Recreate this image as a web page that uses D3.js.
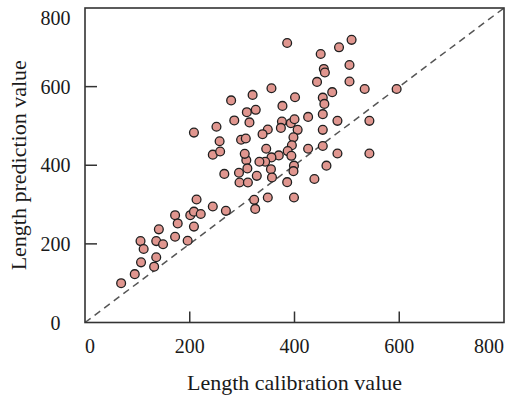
<!DOCTYPE html>
<html>
<head>
<meta charset="utf-8">
<script src="https://cdn.jsdelivr.net/npm/d3@7/dist/d3.min.js"></script>
<style>
  html, body { margin: 0; padding: 0; background: #fff; }
  svg { display: block; }
  text { font-family: "Liberation Serif", "DejaVu Serif", serif; fill: #1a1a1a; }
</style>
</head>
<body>
<svg id="chart" width="509" height="397"></svg>
<script>
// Data (calibration value, prediction value)
const calibration = [69, 95, 107, 132, 136, 106, 112, 136, 149, 141, 172, 196, 172, 177, 201, 208, 221, 213, 208, 244,
  269, 266, 294, 295, 311, 308, 310, 279, 320, 309, 285, 314, 251, 208, 257, 244, 258, 298, 307, 305,
  356, 401, 443, 326, 377, 426, 376, 393, 400, 374, 406, 349, 339, 398, 395, 426, 346, 387, 370, 356,
  394, 344, 333, 355, 399, 398, 328, 357, 386, 438, 386, 509, 485, 450, 505, 456, 458, 505, 534, 595,
  472, 454, 457, 454, 482, 543, 454, 454, 482, 543, 461, 399, 349, 323, 325];
const prediction = [100, 123, 153, 142, 166, 207, 187, 207, 199, 237, 218, 208, 273, 252, 273, 282, 276, 313, 244, 295,
  284, 378, 381, 356, 356, 413, 392, 565, 579, 535, 514, 509, 498, 483, 461, 427, 435, 465, 468, 429,
  596, 573, 612, 541, 551, 523, 511, 507, 517, 495, 490, 491, 479, 471, 451, 442, 442, 436, 425, 420,
  424, 409, 409, 390, 399, 385, 373, 369, 357, 365, 711, 719, 700, 683, 655, 645, 636, 613, 594, 594,
  586, 572, 556, 530, 513, 513, 490, 449, 430, 430, 399, 318, 318, 312, 289];
const xTicks = [0, 200, 400, 600, 800];
const yTicks = [0, 200, 400, 600, 800];
const xTitle = "Length calibration value";
const yTitle = "Length prediction value";

const svg = d3.select("#chart");
const pL = 85, pR = 504, pT = 8, pB = 322.5;
const x = d3.scaleLinear().domain([0, 800]).range([pL, pR]);
const y = d3.scaleLinear().domain([0, 800]).range([pB, pT]);

const axisColor = "#333";

// identity line
svg.append("line")
  .attr("x1", x(0)).attr("y1", y(0))
  .attr("x2", x(800)).attr("y2", y(800))
  .attr("stroke", "#555").attr("stroke-width", 1.5)
  .attr("stroke-dasharray", "7,5");

// points
const pts = calibration.map((c, i) => ({ c, p: prediction[i] }));
svg.append("g").selectAll("circle").data(pts).join("circle")
  .attr("cx", d => x(d.c)).attr("cy", d => y(d.p))
  .attr("r", 4.4)
  .attr("fill", "#e0968f")
  .attr("stroke", "#1f1f1f").attr("stroke-width", 1.3);

// frame
svg.append("rect")
  .attr("x", pL).attr("y", pT)
  .attr("width", pR - pL).attr("height", pB - pT)
  .attr("fill", "none").attr("stroke", axisColor).attr("stroke-width", 1.6);

// inward ticks
const innerX = xTicks.filter(v => v > 0 && v < 800);
const innerY = yTicks.filter(v => v > 0 && v < 800);
svg.append("g").selectAll("line").data(innerX).join("line")
  .attr("x1", d => x(d)).attr("x2", d => x(d))
  .attr("y1", pB).attr("y2", pB - 11)
  .attr("stroke", axisColor).attr("stroke-width", 1.5);
svg.append("g").selectAll("line").data(innerY).join("line")
  .attr("y1", d => y(d)).attr("y2", d => y(d))
  .attr("x1", pL).attr("x2", pL + 12)
  .attr("stroke", axisColor).attr("stroke-width", 1.5);

// tick labels
svg.append("g").selectAll("text").data(xTicks).join("text")
  .attr("x", d => d === 0 ? pL : d === 800 ? pR : x(d))
  .attr("y", 353)
  .attr("text-anchor", d => d === 0 ? "start" : d === 800 ? "end" : "middle")
  .attr("font-size", 20)
  .text(d => d);
svg.append("g").selectAll("text").data(yTicks).join("text")
  .attr("x", 55.5)
  .attr("y", d => Math.max(y(d), 18))
  .attr("dy", "0.35em")
  .attr("text-anchor", "middle")
  .attr("font-size", 20)
  .text(d => d);

// titles
svg.append("text")
  .attr("x", (pL + pR) / 2).attr("y", 390)
  .attr("text-anchor", "middle").attr("font-size", 22)
  .text(xTitle);
svg.append("text")
  .attr("transform", `translate(25.5, ${(pT + pB) / 2}) rotate(-90)`)
  .attr("text-anchor", "middle").attr("font-size", 22)
  .text(yTitle);
</script>
</body>
</html>
